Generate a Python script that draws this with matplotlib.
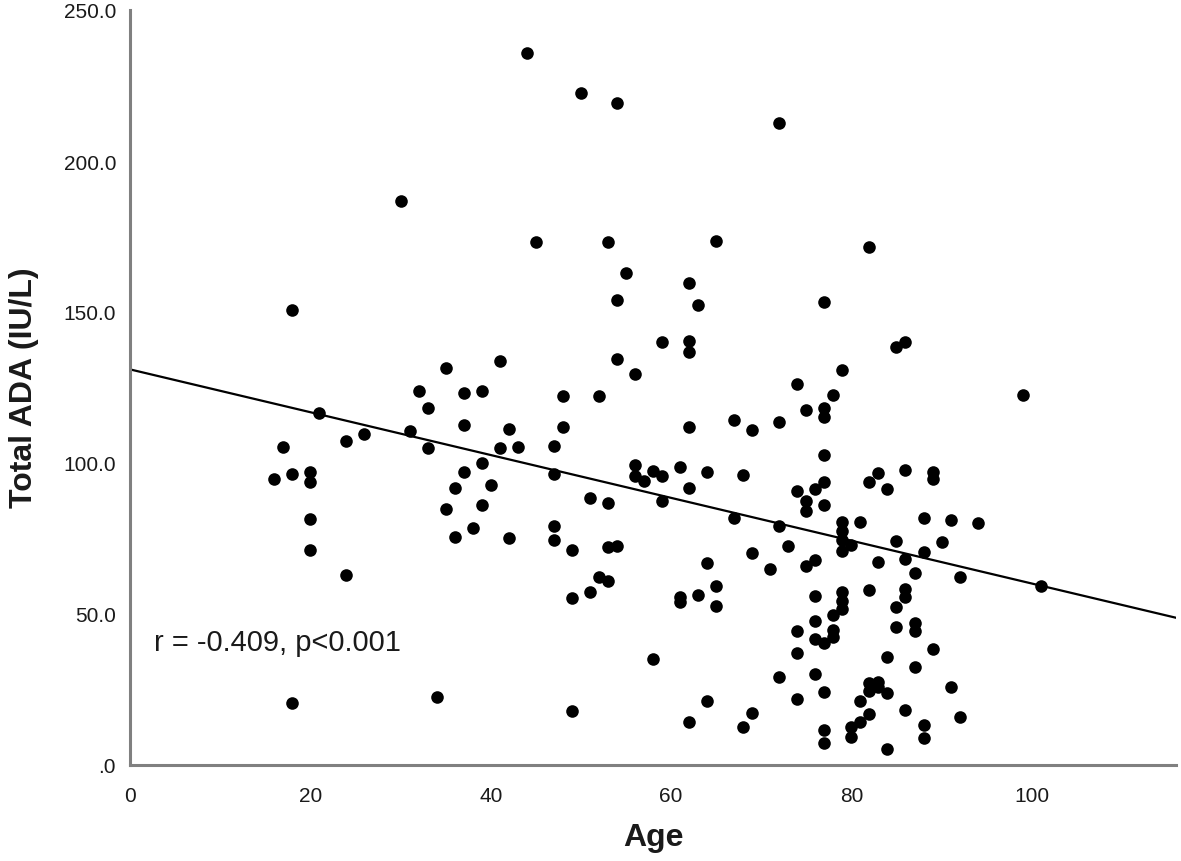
import matplotlib
matplotlib.use('Agg')
import matplotlib.pyplot as plt
from matplotlib.ticker import FuncFormatter

plt.rcParams['font.family'] = ['Liberation Sans', 'DejaVu Sans']

# ages and total ADA values
age = [
    44, 50, 54, 30, 45, 53, 55, 54, 18,
    72, 65, 82, 62, 63, 77,
    41, 35, 32, 37, 39, 33, 21, 37, 42, 26, 24, 31, 33, 41, 43, 17, 39, 37,
    16, 18, 20, 20, 36, 40, 39, 35, 20, 38, 36, 42, 20,
    59, 62, 62, 54, 56, 74, 48, 52, 48, 62, 67, 69, 72, 47, 47, 56, 56, 57,
    58, 59, 61, 64, 68, 62, 74, 51, 53, 59, 67, 72, 47, 47, 49, 53, 54, 69, 73,
    85, 86, 79, 78, 75, 77, 77, 99, 77, 86, 89, 89, 83, 82, 84, 77, 76, 75,
    75, 77, 79, 79, 81, 88, 91, 94, 85, 90, 88, 79, 80,
    79, 75, 76, 83, 86, 87, 92, 101, 76, 79, 79, 79, 82, 86, 86, 85, 78, 76,
    74, 78, 78, 76, 77, 85, 87, 87, 89, 74, 84, 87, 76, 74, 77, 82, 83, 82,
    83, 84, 81, 91, 86, 82, 81, 92, 80, 80, 77, 77, 88, 88, 84,
    64, 71, 52, 53, 51, 49, 61, 61, 63, 65, 65, 72, 58, 49, 64, 62, 69, 68,
    24, 18, 34,
]
ada = [
    235.7, 222.5, 219.1, 186.8, 173.3, 173.1, 163.0, 154.0, 150.7,
    212.7, 173.6, 171.6, 159.5, 152.3, 153.2,
    133.9, 131.5, 123.7, 123.1, 123.7, 118.2, 116.7, 112.7, 111.1, 109.7, 107.3, 110.6, 104.9, 104.9, 105.2, 105.4, 100.0, 96.9,
    94.7, 96.4, 96.9, 93.6, 91.7, 92.7, 86.1, 84.8, 81.5, 78.5, 75.4, 75.3, 71.2,
    140.2, 140.5, 136.9, 134.3, 129.5, 126.0, 122.3, 122.3, 111.8, 111.8, 114.2, 111.0, 113.7, 105.5, 96.4, 99.3, 95.8, 93.9,
    97.5, 95.8, 98.6, 97.0, 96.0, 91.6, 90.8, 88.4, 86.6, 87.5, 81.8, 79.0, 79.0, 74.6, 71.2, 72.3, 72.6, 70.2, 72.6,
    138.5, 140.2, 130.7, 122.4, 117.7, 118.1, 115.3, 122.5, 102.7, 97.6, 97.1, 94.7, 96.7, 93.8, 91.4, 93.8, 91.4, 87.5,
    84.2, 86.1, 80.4, 77.6, 80.6, 81.8, 81.2, 80.1, 74.2, 73.9, 70.4, 74.5, 72.8,
    71.0, 66.0, 67.9, 67.1, 68.2, 63.6, 62.1, 59.2, 55.9, 57.2, 54.4, 51.7, 58.0, 58.3, 55.5, 52.4, 49.7, 47.6,
    44.5, 44.7, 42.3, 41.7, 40.3, 45.8, 47.0, 44.5, 38.4, 37.0, 35.6, 32.6, 30.1, 21.9, 24.1, 27.1, 27.4, 24.6,
    25.7, 23.8, 21.3, 25.7, 18.2, 16.9, 14.1, 15.8, 12.5, 9.4, 11.6, 7.2, 13.3, 8.9, 5.3,
    66.8, 65.0, 62.1, 60.8, 57.4, 55.3, 55.5, 53.9, 56.4, 59.3, 52.8, 29.0, 35.0, 18.0, 21.1, 14.3, 17.1, 12.7,
    63.0, 20.4, 22.6,
]

# fit line as drawn on the chart
intercept = 131.0
slope = -0.709
x_max = 116
annotation = 'r = -0.409, p<0.001'

fig = plt.figure(figsize=(11.81, 8.62), dpi=100)
ax = fig.add_axes([130 / 1181, 96 / 862, 1046 / 1181, 755 / 862])

ax.scatter(age, ada, s=82, color='black', linewidths=0, zorder=3)
ax.plot([0, x_max], [intercept, intercept + slope * x_max], color='black', lw=1.6, zorder=2)

ax.set_xlim(0, x_max)
ax.set_ylim(0, 250)
ax.set_xticks([0, 20, 40, 60, 80, 100])
ax.set_yticks([0, 50, 100, 150, 200, 250])
ax.yaxis.set_major_formatter(FuncFormatter(lambda v, p: '.0' if v == 0 else '%.1f' % v))

for side in ['top', 'right']:
    ax.spines[side].set_visible(False)
for side in ['left', 'bottom']:
    ax.spines[side].set_color('#808080')
    ax.spines[side].set_linewidth(2.2)

ax.tick_params(axis='both', length=0, labelsize=15, colors='#1a1a1a')
ax.tick_params(axis='x', pad=15)
ax.tick_params(axis='y', pad=10)

ax.text(2.7, 40.7, annotation, ha='left', va='center', fontsize=21, color='#1a1a1a')

fig.text(653 / 1181, 1 - 838 / 862, 'Age', ha='center', va='center',
         fontsize=23, fontweight='bold', color='#1a1a1a')
fig.text(24 / 1181, 1 - 388 / 862, 'Total ADA (IU/L)', ha='center', va='center',
         rotation=90, fontsize=23, fontweight='bold', color='#1a1a1a')

fig.savefig('out.png', dpi=100)
